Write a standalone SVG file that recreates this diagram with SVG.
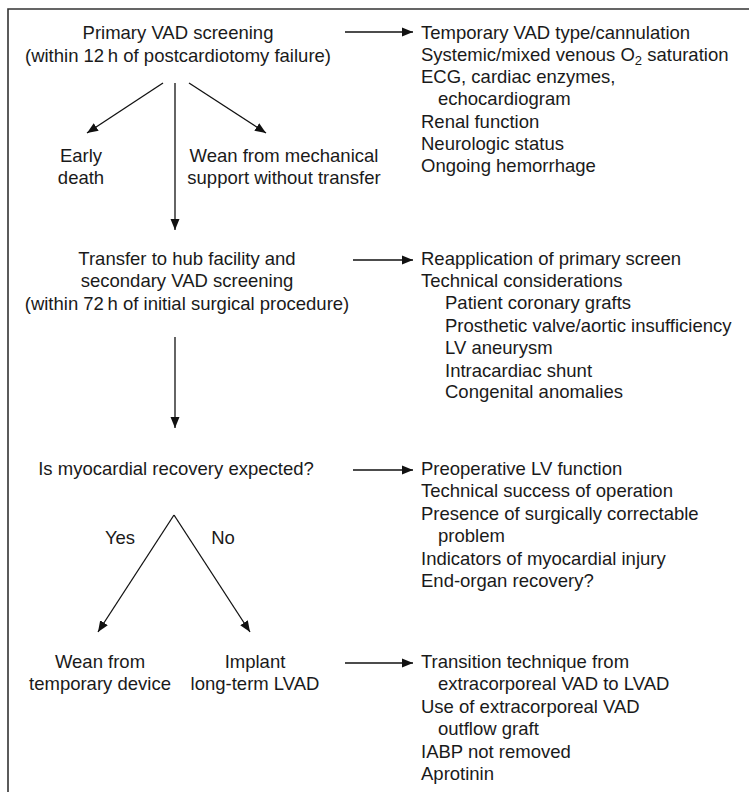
<svg xmlns="http://www.w3.org/2000/svg" width="749" height="792" viewBox="0 0 749 792">
  <style>
    text { font-family: "Liberation Sans", Arial, Helvetica, sans-serif; font-size: 18.5px; fill: #1a1a1a; }
    .c { text-anchor: middle; }
    .edge { stroke: #111; stroke-width: 1.3; fill: none; }
    .frame { stroke: #333; stroke-width: 1.6; fill: none; }
  </style>
  <defs>
    <marker id="arrow" markerUnits="userSpaceOnUse" markerWidth="12" markerHeight="12" viewBox="0 0 12 12" refX="11" refY="6" orient="auto">
      <path d="M0,1.5 L11,6 L0,10.5 Z" fill="#111"/>
    </marker>
  </defs>

  <rect width="749" height="792" fill="#fff"/>
  <!-- open frame: top and left rules -->
  <path class="frame" d="M8,792 V9 H749"/>

  <g id="primary">
    <text class="c" x="178" y="39">Primary VAD screening</text>
    <text class="c" x="178" y="62">(within 12&#8201;h of postcardiotomy failure)</text>
  </g>
  <g id="early-death">
    <text class="c" x="81" y="162">Early</text>
    <text class="c" x="81" y="184">death</text>
  </g>
  <g id="wean-no-transfer">
    <text class="c" x="284" y="162">Wean from mechanical</text>
    <text class="c" x="284" y="184">support without transfer</text>
  </g>
  <g id="transfer">
    <text class="c" x="187" y="265">Transfer to hub facility and</text>
    <text class="c" x="187" y="287">secondary VAD screening</text>
    <text class="c" x="187" y="310">(within 72&#8201;h of initial surgical procedure)</text>
  </g>
  <g id="recovery-question">
    <text class="c" x="176" y="475">Is myocardial recovery expected?</text>
  </g>
  <g id="yes-label"><text class="c" x="120" y="544">Yes</text></g>
  <g id="no-label"><text class="c" x="223" y="544">No</text></g>
  <g id="wean-temporary">
    <text class="c" x="100" y="668">Wean from</text>
    <text class="c" x="100" y="690">temporary device</text>
  </g>
  <g id="implant-lvad">
    <text class="c" x="255" y="668">Implant</text>
    <text class="c" x="255" y="690">long-term LVAD</text>
  </g>

  <g id="primary-criteria">
    <text x="421" y="39">Temporary VAD type/cannulation</text>
    <text x="421" y="61">Systemic/mixed venous O<tspan dy="4" font-size="13">2</tspan><tspan dy="-4"> saturation</tspan></text>
    <text x="421" y="83">ECG, cardiac enzymes,</text>
    <text x="438" y="105">echocardiogram</text>
    <text x="421" y="128">Renal function</text>
    <text x="421" y="150">Neurologic status</text>
    <text x="421" y="172">Ongoing hemorrhage</text>
  </g>
  <g id="secondary-criteria">
    <text x="421" y="265">Reapplication of primary screen</text>
    <text x="421" y="287">Technical considerations</text>
    <text x="445" y="309">Patient coronary grafts</text>
    <text x="445" y="332">Prosthetic valve/aortic insufficiency</text>
    <text x="445" y="354">LV aneurysm</text>
    <text x="445" y="377">Intracardiac shunt</text>
    <text x="445" y="398">Congenital anomalies</text>
  </g>
  <g id="recovery-criteria">
    <text x="421" y="475">Preoperative LV function</text>
    <text x="421" y="497">Technical success of operation</text>
    <text x="421" y="520">Presence of surgically correctable</text>
    <text x="438" y="542">problem</text>
    <text x="421" y="565">Indicators of myocardial injury</text>
    <text x="421" y="587">End-organ recovery?</text>
  </g>
  <g id="lvad-criteria">
    <text x="421" y="668">Transition technique from</text>
    <text x="438" y="690">extracorporeal VAD to LVAD</text>
    <text x="421" y="713">Use of extracorporeal VAD</text>
    <text x="438" y="735">outflow graft</text>
    <text x="421" y="758">IABP not removed</text>
    <text x="421" y="780">Aprotinin</text>
  </g>

  <g id="connectors">
    <line class="edge" x1="163" y1="83" x2="87" y2="133" marker-end="url(#arrow)"/>
    <line class="edge" x1="175" y1="83" x2="175" y2="230" marker-end="url(#arrow)"/>
    <line class="edge" x1="189" y1="83" x2="266" y2="133" marker-end="url(#arrow)"/>
    <line class="edge" x1="175" y1="337" x2="175" y2="428" marker-end="url(#arrow)"/>
    <line class="edge" x1="174" y1="515" x2="98" y2="632" marker-end="url(#arrow)"/>
    <line class="edge" x1="174" y1="515" x2="250" y2="632" marker-end="url(#arrow)"/>
    <line class="edge" x1="345" y1="32" x2="413" y2="32" marker-end="url(#arrow)"/>
    <line class="edge" x1="353" y1="260" x2="413" y2="260" marker-end="url(#arrow)"/>
    <line class="edge" x1="353" y1="470" x2="413" y2="470" marker-end="url(#arrow)"/>
    <line class="edge" x1="345" y1="663" x2="413" y2="663" marker-end="url(#arrow)"/>
  </g>
</svg>
